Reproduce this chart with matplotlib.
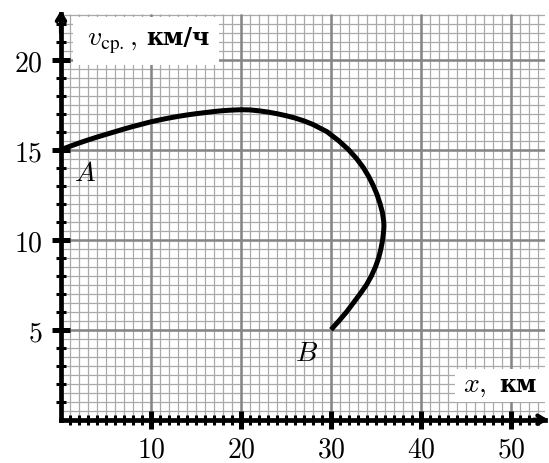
import matplotlib
matplotlib.use('Agg')
import matplotlib.pyplot as plt
import numpy as np
from matplotlib.patches import Rectangle

# ---- data ----
curve_x = [0, 1, 2, 3, 4, 5, 6, 7, 8, 9, 10, 11, 12, 13, 14, 15, 16, 17,
           18, 19, 20, 21, 22, 23, 24, 25, 26, 27, 28, 29.55, 30.85, 31.95,
           32.85, 33.6, 34.2, 34.7, 35.12, 35.45, 35.72, 35.86, 35.88, 35.85,
           35.74, 35.55, 35.3, 34.95, 34.5, 33.95, 33.25, 32.5, 31.75, 30.9,
           30.0]
curve_y = [15.0, 15.19, 15.37, 15.54, 15.70, 15.85, 16.0, 16.15, 16.29,
           16.42, 16.55, 16.66, 16.76, 16.85, 16.93, 17.0, 17.06, 17.12,
           17.17, 17.2, 17.22, 17.21, 17.16, 17.09, 17.0, 16.89, 16.76, 16.6,
           16.4, 16.0, 15.5, 15.0, 14.5, 14.0, 13.5, 13.0, 12.5, 12.0, 11.5,
           11.0, 10.75, 10.5, 10.0, 9.5, 9.0, 8.5, 8.0, 7.5, 7.0, 6.5, 6.0,
           5.5, 5.0]
x_ticks = [10, 20, 30, 40, 50]
y_ticks = [5, 10, 15, 20]
point_labels = ['A', 'B']
x_label = 'км'
y_label = 'км/ч'

W, H = 549, 464
fig = plt.figure(figsize=(W / 100, H / 100), dpi=100)
x0px, y0px = 61, 420.7
xmax, ymax = 53.8, 22.55
ax = fig.add_axes([x0px / W, (H - y0px) / H, xmax * 9 / W, ymax * 18 / H])
ax.set_xlim(0, xmax)
ax.set_ylim(0, ymax)

# grid
minor_c, major_c = '#a9a9a9', '#858585'
ax.vlines(np.arange(1, 54, 1), 0, ymax, color=minor_c, lw=0.9, zorder=1)
ax.hlines(np.arange(0.5, ymax, 0.5), 0, xmax, color=minor_c, lw=0.9, zorder=1)
ax.vlines(np.arange(10, 54, 10), 0, ymax, color=major_c, lw=1.8, zorder=1.5)
ax.hlines(np.arange(5, ymax, 5), 0, xmax, color=major_c, lw=1.8, zorder=1.5)

# white label boxes
ax.add_patch(Rectangle((1.28, 19.7), 16.3, 2.7, facecolor='white',
                       edgecolor='none', zorder=2))
ax.add_patch(Rectangle((43.8, 0.98), 11, 1.84, facecolor='white',
                       edgecolor='none', zorder=2, clip_on=False))

# curve
ax.plot(curve_x, curve_y, color='black', lw=3.6, solid_capstyle='butt',
        solid_joinstyle='round', zorder=3)

# spines
for s in ['top', 'right']:
    ax.spines[s].set_visible(False)
for s in ['left', 'bottom']:
    ax.spines[s].set_linewidth(3.4)
    ax.spines[s].set_zorder(4)

# ticks
ax.set_xticks(x_ticks)
ax.set_xticklabels([f'${v}$' for v in x_ticks])
ax.set_yticks(y_ticks)
ax.set_yticklabels([f'${v}$' for v in y_ticks])
ax.set_xticks(np.arange(1, 54, 1), minor=True)
ax.set_yticks(np.arange(1, 23, 1), minor=True)
ax.tick_params(which='major', direction='inout', length=13, width=3.6,
               labelsize=20)
ax.tick_params(axis='x', which='major', pad=4.5)
ax.tick_params(axis='y', which='major', pad=7)
ax.tick_params(which='minor', direction='inout', length=7.2, width=2.2)
for lab in ax.get_xticklabels() + ax.get_yticklabels():
    lab.set_math_fontfamily('cm')

# arrows
ax.annotate('', xy=(54.15, 0), xytext=(52.5, 0), annotation_clip=False,
            arrowprops=dict(arrowstyle='->,head_length=0.5,head_width=0.3',
                            lw=3.0, color='black', shrinkA=0, shrinkB=0))
ax.annotate('', xy=(0, 22.75), xytext=(0, 21.5), annotation_clip=False,
            arrowprops=dict(arrowstyle='->,head_length=0.5,head_width=0.3',
                            lw=3.0, color='black', shrinkA=0, shrinkB=0))

# texts
ax.text(2.85, 20.87, r'$v_{\mathrm{ср.}}$', fontsize=20,
        math_fontfamily='cm', va='baseline', ha='left', zorder=5)
ax.text(7.6, 20.87, r'$,$', fontsize=20,
        math_fontfamily='cm', va='baseline', ha='left', zorder=5)
ax.text(9.5, 20.87, y_label, fontsize=17, family='DejaVu Serif',
        weight='bold', va='baseline', ha='left', zorder=5)
ax.text(44.67, 1.61, r'$x,$', fontsize=20, math_fontfamily='cm',
        va='baseline', ha='left', zorder=5)
ax.text(48.7, 1.61, x_label, fontsize=17, family='DejaVu Serif',
        weight='bold', va='baseline', ha='left', zorder=5)
ax.text(2.67, 13.76, f'${point_labels[0]}$', fontsize=20, math_fontfamily='cm',
        va='center', ha='center', zorder=5)
ax.text(27.3, 3.76, f'${point_labels[1]}$', fontsize=20, math_fontfamily='cm',
        va='center', ha='center', zorder=5)

fig.savefig('out.png', dpi=100)
